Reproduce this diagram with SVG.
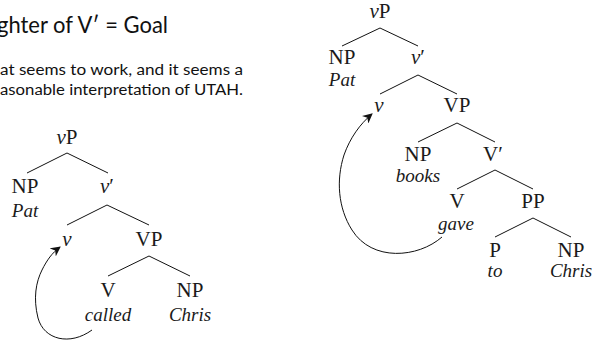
<svg xmlns="http://www.w3.org/2000/svg" width="592" height="341" viewBox="0 0 592 341">
<style>
.t{font-family:"Liberation Serif","Times New Roman",serif;font-size:21px;fill:#1a1a1a;text-anchor:middle}
.w{font-family:"Liberation Serif","Times New Roman",serif;font-size:19px;font-style:italic;fill:#1a1a1a;text-anchor:middle}
.i{font-style:italic}
.h{font-family:Lato,"Open Sans",sans-serif;fill:#111}
.e line{stroke:#111;stroke-width:1}
.arr{fill:none;stroke:#111;stroke-width:1;marker-end:url(#ah)}
</style>
<defs>
<marker id="ah" viewBox="0 0 10 10" refX="9" refY="5" markerWidth="10" markerHeight="10" markerUnits="userSpaceOnUse" orient="auto">
<path d="M0,0 L10,5 L0,10 L3,5 Z" fill="#111"/>
</marker>
</defs>
<g id="heading">
<text class="h" x="-3" y="33" font-size="23" textLength="171" lengthAdjust="spacingAndGlyphs">ghter of V′ = Goal</text>
<text class="h" x="0" y="75" font-size="14.5" textLength="243" lengthAdjust="spacingAndGlyphs">at seems to work, and it seems a</text>
<text class="h" x="0" y="95" font-size="14.5" textLength="243" lengthAdjust="spacingAndGlyphs">asonable interpretation of UTAH.</text>
</g>
<g id="left-tree">
<g id="L-vP"><text class="t" x="67" y="144"><tspan class="i">v</tspan>P</text></g>
<g id="L-NP"><text class="t" x="25" y="193">NP</text><text class="w" x="25" y="217">Pat</text></g>
<g id="L-vbar"><text class="t" x="107" y="193"><tspan class="i">v</tspan>′</text></g>
<g id="L-v"><text class="t" x="67" y="246"><tspan class="i">v</tspan></text></g>
<g id="L-VP"><text class="t" x="149" y="246">VP</text></g>
<g id="L-V"><text class="t" x="108" y="297">V</text><text class="w" x="108" y="321">called</text></g>
<g id="L-NP2"><text class="t" x="190" y="297">NP</text><text class="w" x="190" y="321">Chris</text></g>
</g>
<g id="right-tree">
<g id="R-vP"><text class="t" x="380" y="18"><tspan class="i">v</tspan>P</text></g>
<g id="R-NP"><text class="t" x="342" y="64">NP</text><text class="w" x="342" y="86">Pat</text></g>
<g id="R-vbar"><text class="t" x="418" y="64"><tspan class="i">v</tspan>′</text></g>
<g id="R-v"><text class="t" x="379" y="112"><tspan class="i">v</tspan></text></g>
<g id="R-VP"><text class="t" x="457" y="112">VP</text></g>
<g id="R-NP2"><text class="t" x="418" y="161">NP</text><text class="w" x="418" y="182">books</text></g>
<g id="R-Vbar"><text class="t" x="493" y="161">V′</text></g>
<g id="R-V"><text class="t" x="457" y="208">V</text><text class="w" x="456" y="230">gave</text></g>
<g id="R-PP"><text class="t" x="533" y="208">PP</text></g>
<g id="R-P"><text class="t" x="495" y="257">P</text><text class="w" x="495" y="277">to</text></g>
<g id="R-NP3"><text class="t" x="571" y="257">NP</text><text class="w" x="571" y="277">Chris</text></g>
</g>
<g id="connectors" class="e">
<line x1="67" y1="153" x2="27" y2="173"/>
<line x1="67" y1="153" x2="108" y2="173"/>
<line x1="107" y1="205" x2="67" y2="225"/>
<line x1="107" y1="205" x2="149" y2="225"/>
<line x1="149" y1="256" x2="108" y2="276"/>
<line x1="149" y1="256" x2="190" y2="276"/>
<line x1="380" y1="28" x2="342" y2="46"/>
<line x1="380" y1="28" x2="418" y2="46"/>
<line x1="418" y1="75" x2="380" y2="94"/>
<line x1="418" y1="75" x2="457" y2="94"/>
<line x1="457" y1="123" x2="418" y2="142"/>
<line x1="457" y1="123" x2="495" y2="142"/>
<line x1="495" y1="170" x2="457" y2="189"/>
<line x1="495" y1="170" x2="533" y2="189"/>
<line x1="533" y1="218" x2="495" y2="237"/>
<line x1="533" y1="218" x2="571" y2="237"/>
<path class="arr" d="M92,330 C70,346 44,340 38,318 C33,298 36,282 42,270 C47,260 52,253 60,247"/>
<path class="arr" d="M442,237 C418,258 372,262 352,230 C338,208 336,180 344,155 C350,138 360,124 372,114"/>
</g>
</svg>
